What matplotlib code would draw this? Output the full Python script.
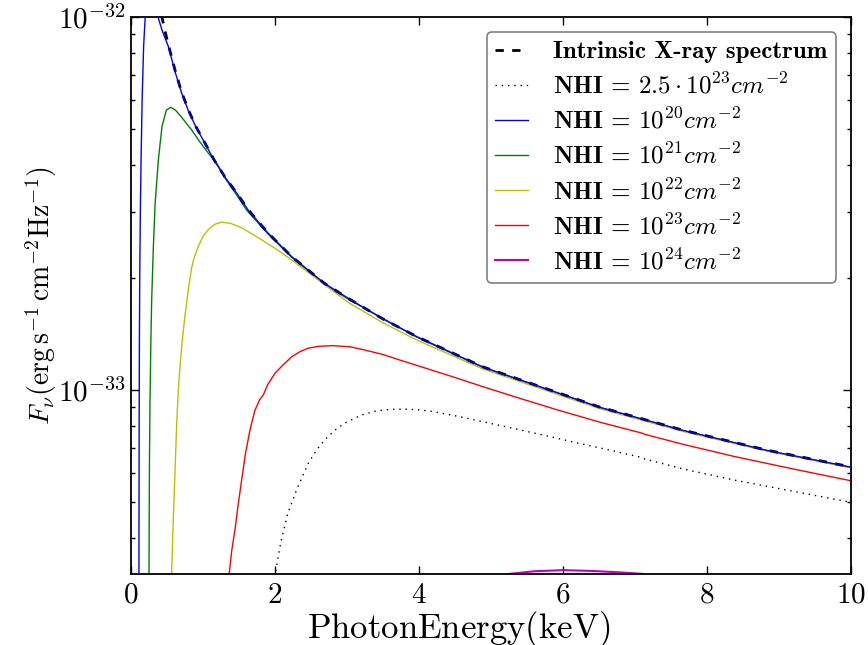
"""Absorbed X-ray spectra for several hydrogen column densities."""

import matplotlib

matplotlib.use("Agg")
import matplotlib.pyplot as plt
import numpy as np
from matplotlib.ticker import FuncFormatter, LogLocator, NullFormatter

plt.rcParams["mathtext.fontset"] = "cm"

# flux values are in units of 1e-33 erg s^-1 cm^-2 Hz^-1, energies in keV
FLUX_UNIT = 1e-33

intrinsic_e = [0.30, 0.375, 0.43, 0.463, 0.52, 0.611, 0.70, 0.796, 0.90, 1.028,
               1.16, 1.306, 1.46, 1.63, 1.90, 2.23, 2.69, 3.04, 3.5, 3.97,
               4.89, 5.82, 6.51, 7.67, 8.83, 10.0]
intrinsic_f = [12.88, 11.09, 10.0, 9.33, 8.41, 7.21, 6.31, 5.64, 5.09, 4.59,
               4.12, 3.72, 3.39, 3.04, 2.64, 2.28, 1.93, 1.75, 1.55, 1.39,
               1.153, 1.00, 0.90, 0.78, 0.69, 0.622]

nh20_e = [0.105, 0.110, 0.113, 0.117, 0.122, 0.130, 0.140, 0.155, 0.175, 0.200,
          0.240, 0.29, 0.34, 0.375, 0.43, 0.52, 0.611, 0.70, 0.796, 0.90,
          1.028, 1.16, 1.306, 1.46, 1.63, 1.90, 2.23, 2.69, 3.04, 3.5,
          3.97, 4.89, 5.82, 6.51, 7.67, 8.83, 10.0]
nh20_f = [0.1, 0.324, 0.794, 1.413, 2.089, 3.020, 4.169, 6.026, 8.318, 10.23,
          12.59, 13.80, 12.02, 10.0, 9.23, 8.32, 7.14, 6.28, 5.61, 5.08,
          4.58, 4.11, 3.72, 3.39, 3.03, 2.64, 2.28, 1.93, 1.75, 1.55,
          1.39, 1.152, 0.999, 0.899, 0.779, 0.689, 0.621]

nh21_e = [0.235, 0.250, 0.256, 0.264, 0.275, 0.287, 0.31, 0.335, 0.38, 0.43,
          0.49, 0.55, 0.62, 0.70, 0.843, 0.95, 1.074, 1.20, 1.306, 1.46,
          1.607, 1.90, 2.23, 2.69, 3.04, 3.97, 4.89, 5.82, 6.51, 7.67,
          8.83, 10.0]
nh21_f = [0.1, 0.324, 0.631, 0.933, 1.318, 1.738, 2.399, 3.162, 4.140, 5.082,
          5.623, 5.728, 5.623, 5.395, 4.977, 4.645, 4.315, 4.027, 3.698, 3.350,
          3.034, 2.624, 2.270, 1.919, 1.742, 1.385, 1.149, 0.997, 0.897, 0.778,
          0.688, 0.620]

nh22_e = [0.55, 0.565, 0.585, 0.611, 0.635, 0.657, 0.681, 0.71, 0.75, 0.80,
          0.843, 0.87, 0.935, 1.00, 1.074, 1.16, 1.26, 1.38, 1.537, 1.769,
          2.00, 2.23, 2.69, 3.04, 3.5, 3.97, 4.89, 5.82, 6.51, 7.67,
          8.83, 10.0]
nh22_f = [0.1, 0.324, 0.437, 0.603, 0.813, 1.000, 1.156, 1.349, 1.585, 1.884,
          2.128, 2.239, 2.427, 2.582, 2.692, 2.780, 2.818, 2.799, 2.723, 2.559,
          2.399, 2.234, 1.914, 1.706, 1.514, 1.361, 1.138, 0.989, 0.891, 0.774,
          0.686, 0.618]

nh23_e = [1.30, 1.366, 1.40, 1.444, 1.49, 1.537, 1.59, 1.653, 1.72, 1.79,
          1.838, 1.90, 2.0, 2.10, 2.23, 2.35, 2.46, 2.60, 2.79, 3.04,
          3.23, 3.50, 3.74, 4.00, 4.43, 4.90, 5.36, 5.90, 6.51, 7.10,
          7.13, 7.67, 8.37, 9.2, 10.0]
nh23_f = [0.240, 0.324, 0.372, 0.422, 0.495, 0.574, 0.676, 0.782, 0.881, 0.944,
          0.970, 1.035, 1.109, 1.161, 1.227, 1.268, 1.294, 1.309, 1.315, 1.306,
          1.282, 1.245, 1.202, 1.159, 1.091, 1.019, 0.955, 0.887, 0.820, 0.766,
          0.761, 0.715, 0.664, 0.614, 0.571]

nh25_e = [1.95, 2.01, 2.05, 2.09, 2.18, 2.30, 2.46, 2.58, 2.69, 2.83,
          2.97, 3.20, 3.41, 3.60, 3.78, 4.00, 4.20, 4.50, 4.89, 5.36,
          5.82, 6.2, 6.65, 7.10, 7.13, 7.67, 8.37, 9.2, 10.0]
nh25_f = [0.200, 0.326, 0.363, 0.398, 0.468, 0.540, 0.635, 0.692, 0.735, 0.780,
          0.815, 0.857, 0.879, 0.887, 0.889, 0.885, 0.875, 0.853, 0.822, 0.785,
          0.750, 0.721, 0.690, 0.659, 0.654, 0.614, 0.574, 0.535, 0.500]

nh24_e = [5.0, 5.26, 5.6, 6.0, 6.4, 6.8, 7.1, 7.4]
nh24_f = [0.295, 0.3214, 0.3266, 0.3289, 0.3273, 0.3243, 0.3214, 0.302]

fig = plt.figure(figsize=(8.68, 6.45), dpi=100)
ax = fig.add_axes([131 / 868, 1 - 574 / 645, 720 / 868, 557 / 645])


def flux(values):
    return np.array(values) * FLUX_UNIT


ax.plot(intrinsic_e, flux(intrinsic_f), color="k", lw=2, ls=(0, (3, 3)),
        label="Intrinsic X-ray spectrum", zorder=3)
ax.plot(nh25_e, flux(nh25_f), color="k", lw=1, ls=(0, (1, 3.5)),
        label=r"NHI = $2.5\cdot10^{23}cm^{-2}$")
ax.plot(nh20_e, flux(nh20_f), color="b", lw=1, label=r"NHI = $10^{20}cm^{-2}$", zorder=4)
ax.plot(nh21_e, flux(nh21_f), color=(0, 0.5, 0), lw=1, label=r"NHI = $10^{21}cm^{-2}$")
ax.plot(nh22_e, flux(nh22_f), color=(0.75, 0.75, 0), lw=1, label=r"NHI = $10^{22}cm^{-2}$")
ax.plot(nh23_e, flux(nh23_f), color="r", lw=1, label=r"NHI = $10^{23}cm^{-2}$")
ax.plot(nh24_e, flux(nh24_f), color=(0.75, 0, 0.75), lw=1.5, label=r"NHI = $10^{24}cm^{-2}$")

ax.set_yscale("log")
ax.set_xlim(0, 10)
ax.set_ylim(10 ** -33.4933, 1e-32)

ax.xaxis.set_major_formatter(FuncFormatter(lambda v, p: rf"${v:g}$"))
ax.yaxis.set_major_locator(LogLocator(base=10))
ax.yaxis.set_major_formatter(
    FuncFormatter(lambda v, p: rf"$10^{{{int(round(np.log10(v)))}}}$"))
ax.yaxis.set_minor_locator(LogLocator(base=10, subs=np.arange(2, 10)))
ax.yaxis.set_minor_formatter(NullFormatter())

ax.tick_params(which="both", direction="in", top=True, right=True, width=1)
ax.tick_params(which="major", length=6, labelsize=21)
ax.tick_params(which="minor", length=3)
ax.tick_params(axis="x", pad=5)
ax.tick_params(axis="y", pad=4)
for spine in ax.spines.values():
    spine.set_linewidth(1.3)

ax.set_xlabel(r"$\rm PhotonEnergy(keV)$", fontsize=25)
ax.xaxis.set_label_coords(0.455, -0.062)
ax.set_ylabel(r"$F_\nu(\rm erg\,s^{-1}\,cm^{-2}Hz^{-1})$", fontsize=20)
ax.yaxis.set_label_coords(-0.1, 0.5)

leg = ax.legend(loc="upper right", prop={"family": "cmb10", "size": 18},
                handlelength=1.3, handletextpad=1.0, labelspacing=0.38,
                borderpad=0.35, fancybox=True, framealpha=1, borderaxespad=0.6)
leg.get_frame().set_edgecolor("0.5")
leg.get_frame().set_linewidth(1.2)

plt.savefig("out.png", dpi=100)
plt.close()
